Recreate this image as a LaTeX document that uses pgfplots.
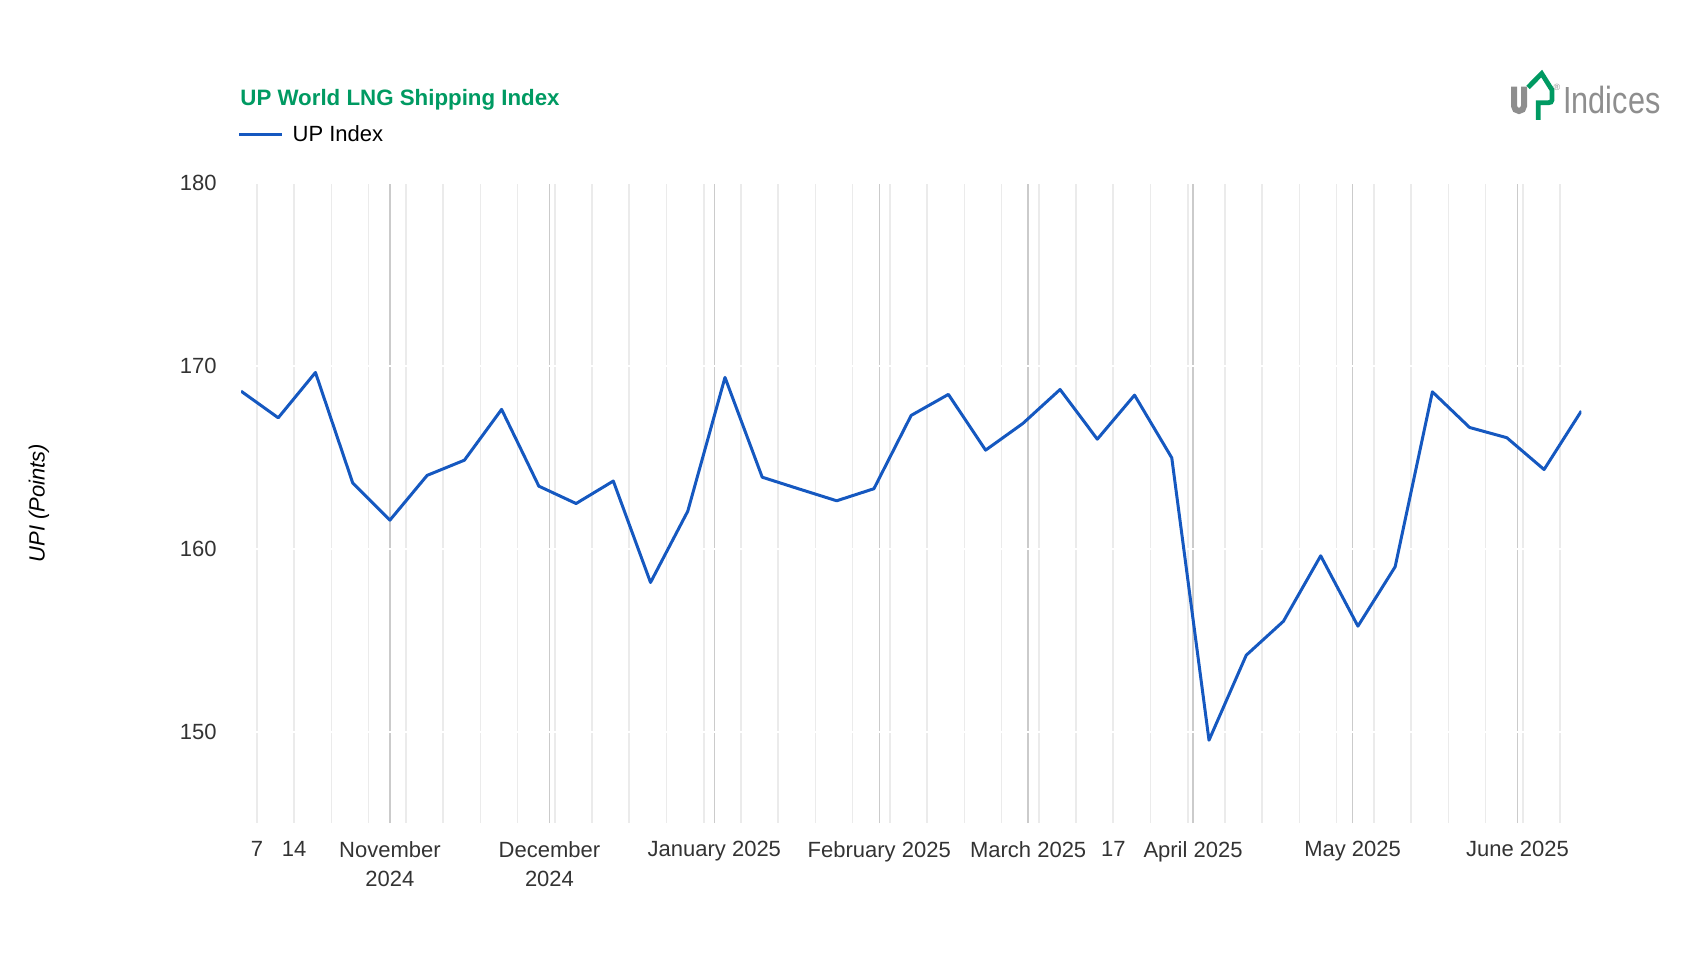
\documentclass[border=0pt]{standalone}
\usepackage{fontspec}
\setmainfont{Liberation Sans}
\usepackage{graphicx}
\usepackage{pgfplots}
\usepackage{pgfplotstable}
\pgfplotsset{compat=1.18}
\definecolor{upblue}{HTML}{1558C0}
\definecolor{upgreen}{HTML}{009A62}
\definecolor{gridmaj}{HTML}{CBCBCB}
\definecolor{gridmin}{HTML}{EBEBEB}
\definecolor{txt}{HTML}{333333}
\definecolor{logogray}{HTML}{8E8E8E}

% x = days since 1 November 2024 (weekly, Fridays)
\pgfplotstableread{
d v
-28 168.63
-21 167.17
-14 169.65
-7 163.61
0 161.57
7 164.02
14 164.85
21 167.63
28 163.43
35 162.48
42 163.71
49 158.16
56 162.06
63 169.38
70 163.92
77 163.27
84 162.63
91 163.29
98 167.30
105 168.45
112 165.40
119 166.86
126 168.72
133 166.00
140 168.41
147 164.98
154 149.53
161 154.18
168 156.04
175 159.62
182 155.77
189 159.02
196 168.59
203 166.64
210 166.08
217 164.34
224 167.54
}\upindex

\begin{document}
\begin{tikzpicture}
\useasboundingbox (0pt,0pt) rectangle (851pt,480pt);
\begin{axis}[
  at={(120.5pt,68.5pt)}, anchor=south west,
  scale only axis, width=670.15pt, height=319.85pt,
  xmin=-28, xmax=224, ymin=145, ymax=180,
  axis line style={draw=none},
  major tick length=0pt, minor tick length=0pt,
  xtick={0,30,61,92,120,151,181,212},
  xticklabels={November\\2024, December\\2024, January 2025, February 2025, March 2025, April 2025, May 2025, June 2025},
  extra x ticks={-25,-18,136},
  extra x tick labels={7,14,17},
  extra x tick style={grid=none},
  minor xtick={-25,-18,...,220},
  xmajorgrids, xminorgrids, ymajorgrids,
  major grid style={gridmaj, line width=0.7pt},
  minor grid style={gridmin, line width=0.8pt},
  y grid style={white, line width=1pt},
  ytick={150,160,170,180},
  /pgf/number format/assume math mode=true,
  xticklabel style={font=\fontsize{11}{14.5}\selectfont, text=txt, align=center, inner sep=0pt, anchor=north, yshift=-9pt},
  yticklabel style={font=\fontsize{11}{13}\selectfont, text=txt, inner sep=0pt, anchor=east, xshift=-12pt},
  ylabel={UPI (Points)},
  ylabel style={at={(axis description cs:-0.1507,0.5)}, anchor=center, font=\fontsize{11}{13}\selectfont\itshape, text=black},
  legend style={at={(axis description cs:-0.0025,1.0761)}, anchor=west, draw=none, fill=none, inner sep=0pt, outer sep=0pt, column sep=4.5pt, nodes={inner sep=0pt}, font=\fontsize{11}{13}\selectfont, text=black},
  legend cell align=left,
  legend image code/.code={\draw[#1] (0pt,0pt) -- (21.5pt,0pt);},
]
\addplot[upblue, line width=1.5pt, no markers, line join=round] table[x=d, y=v] {\upindex};
\addlegendentry{UP Index}
\end{axis}
% title
\node[anchor=base west, inner sep=0pt, font=\fontsize{11.15}{13}\selectfont\bfseries, text=upgreen] at (120pt,427pt) {UP World LNG Shipping Index};
% logo
\draw[logogray, line width=3pt] (757pt,436.65pt) -- (757pt,427pt) arc (180:360:2.5pt) -- (762pt,436.65pt);
\draw[upgreen, line width=2.4pt, line join=miter] (764pt,436.3pt) -- (770.85pt,443.2pt) -- (776pt,435pt) -- (776pt,431.65pt) .. controls (776pt,428.6pt) .. (772pt,428.6pt) -- (769.15pt,428.6pt) -- (769.15pt,420pt);
\node[text=logogray, font=\fontsize{4.5}{5}\selectfont, inner sep=0pt] at (778.5pt,436.3pt) {®};
\node[anchor=base west, inner sep=0pt, text=logogray, font=\fontsize{18.9}{20}\selectfont] at (781.5pt,423pt) {\scalebox{0.81}[1]{Indices}};
\end{tikzpicture}
\end{document}
